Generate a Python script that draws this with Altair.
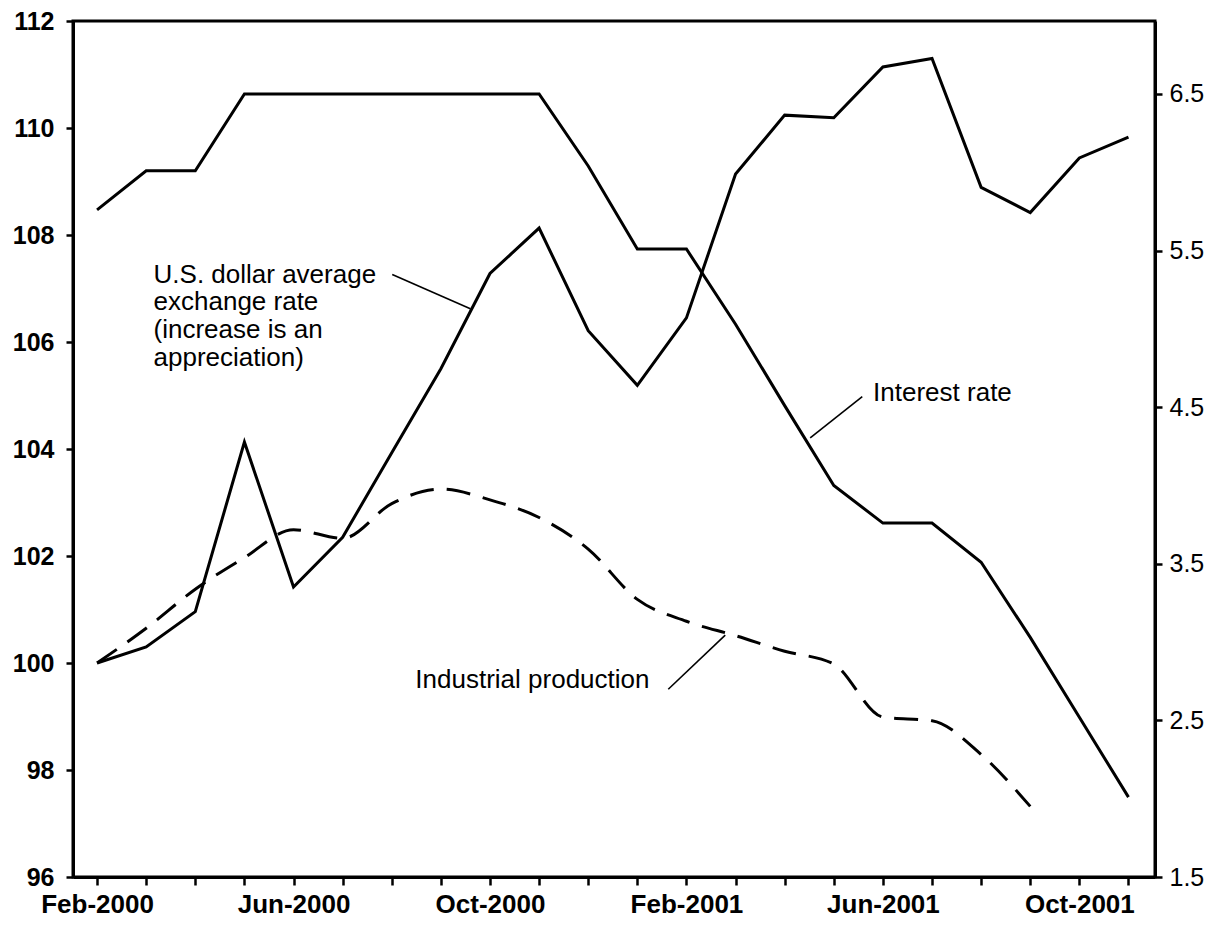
import altair as alt
import pandas as pd

# ---- data ----
months = ["Feb-2000", "Mar-2000", "Apr-2000", "May-2000", "Jun-2000", "Jul-2000",
          "Aug-2000", "Sep-2000", "Oct-2000", "Nov-2000", "Dec-2000", "Jan-2001",
          "Feb-2001", "Mar-2001", "Apr-2001", "May-2001", "Jun-2001", "Jul-2001",
          "Aug-2001", "Sep-2001", "Oct-2001", "Nov-2001"]
exchange_rate = [100.0, 100.3, 100.96, 104.13, 101.42, 102.35, 103.93, 105.5,
                 107.28, 108.13, 106.21, 105.19, 106.45, 109.14, 110.24, 110.19,
                 111.14, 111.30, 108.89, 108.42, 109.44, 109.83]
interest_rate = [5.76, 6.01, 6.01, 6.5, 6.5, 6.5, 6.5, 6.5, 6.5, 6.5, 6.04, 5.51,
                 5.51, 5.03, 4.51, 4.0, 3.76, 3.76, 3.51, 3.03, 2.52, 2.01]
industrial_production = [100.0, 100.65, 101.38, 101.97, 102.49, 102.33, 102.98,
                         103.25, 103.05, 102.72, 102.13, 101.19, 100.78, 100.51,
                         100.22, 99.98, 98.99, 98.92, 98.29, 97.32]
tick_labels = ["Feb-2000", "Jun-2000", "Oct-2000", "Feb-2001", "Jun-2001", "Oct-2001"]
left_ticks = [96, 98, 100, 102, 104, 106, 108, 110, 112]
right_ticks = [1.5, 2.5, 3.5, 4.5, 5.5, 6.5]

ex_label = ["U.S. dollar average", "exchange rate", "(increase is an", "appreciation)"]
ir_label = "Interest rate"
ip_label = "Industrial production"

# ---- tables ----
df = pd.DataFrame({"idx": list(range(len(months))), "month": months,
                   "fx": exchange_rate, "rate": interest_rate})
df_ip = pd.DataFrame({"idx": list(range(len(industrial_production))),
                      "month": months[:len(industrial_production)],
                      "ip": industrial_production})
# leader lines (in month-index / left-axis units)
leaders = pd.DataFrame({
    "x": [6.01, 15.58, 11.63],
    "y": [107.26, 104.98, 99.51],
    "x2": [7.60, 14.52, 12.79],
    "y2": [106.62, 104.21, 100.52],
})

FONT = "Liberation Sans"
XDOM = [-0.49, 21.54]
xscale = alt.Scale(domain=XDOM, nice=False, zero=False)
yleft = alt.Scale(domain=[96, 112], nice=False, zero=False)
yright = alt.Scale(domain=[1.5, 6.966], nice=False, zero=False)

label_expr = ("datum.value % 4 == 0 ? " + str(tick_labels) +
              "[floor(datum.value / 4)] : ''")

x_axis = alt.Axis(values=list(range(len(months))), labelExpr=label_expr,
                  title=None, tickSize=8, tickWidth=2.5, tickColor="black",
                  domainWidth=3, domainColor="black", labelFont=FONT,
                  labelFontSize=26, labelFontWeight="bold", labelColor="black",
                  labelPadding=6, labelFlush=False, labelOverlap=False, grid=False)

left_axis = alt.Axis(values=left_ticks, title=None, tickSize=7, tickWidth=2.5,
                     tickColor="black", domainWidth=3, domainColor="black",
                     labelFont=FONT, labelFontSize=25, labelFontWeight="bold",
                     labelColor="black", labelPadding=12, grid=False, format="d")

right_axis = alt.Axis(values=right_ticks, title=None, orient="right", tickSize=7,
                      tickWidth=2.5, tickColor="black", domainWidth=3,
                      domainColor="black", labelFont=FONT, labelFontSize=25,
                      labelColor="black", labelPadding=7, grid=False, format=".1f")

fx_line = alt.Chart(df).mark_line(color="black", strokeWidth=3, strokeJoin="miter").encode(
    x=alt.X("idx:Q", scale=xscale, axis=x_axis),
    y=alt.Y("fx:Q", scale=yleft, axis=left_axis),
)
ip_line = alt.Chart(df_ip).mark_line(color="black", strokeWidth=3,
                                     strokeDash=[24, 13], interpolate="monotone").encode(
    x=alt.X("idx:Q", scale=xscale),
    y=alt.Y("ip:Q", scale=yleft),
)
leader_rules = alt.Chart(leaders).mark_rule(color="black", strokeWidth=1.6).encode(
    x=alt.X("x:Q", scale=xscale),
    y=alt.Y("y:Q", scale=yleft),
    x2="x2:Q",
    y2="y2:Q",
)
ex_text = alt.Chart(df.head(1)).mark_text(
    text=ex_label, align="left", baseline="alphabetic", font=FONT, fontSize=26,
    lineHeight=27.7, color="black").encode(
    x=alt.datum(1.15, scale=xscale), y=alt.datum(107.11, scale=yleft))
ir_text = alt.Chart(df.head(1)).mark_text(
    text=ir_label, align="left", baseline="alphabetic", font=FONT, fontSize=26,
    color="black").encode(
    x=alt.datum(15.80, scale=xscale), y=alt.datum(104.905, scale=yleft))
ip_text = alt.Chart(df.head(1)).mark_text(
    text=ip_label, align="left", baseline="alphabetic", font=FONT, fontSize=26,
    color="black").encode(
    x=alt.datum(6.48, scale=xscale), y=alt.datum(99.53, scale=yleft))

left_group = alt.layer(fx_line, ip_line, leader_rules, ex_text, ir_text, ip_text)

rate_line = alt.Chart(df).mark_line(color="black", strokeWidth=3, strokeJoin="miter").encode(
    x=alt.X("idx:Q", scale=xscale),
    y=alt.Y("rate:Q", scale=yright, axis=right_axis),
)

chart = alt.layer(left_group, rate_line).resolve_scale(y="independent").properties(
    width=1082, height=856,
    autosize=alt.AutoSizeParams(type="none"),
    padding={"left": 65, "top": 13, "right": 54, "bottom": 40},
    background="white",
).configure_view(stroke="black", strokeWidth=3)

chart.save("out.html", embed_options={"renderer": "svg", "actions": False})
